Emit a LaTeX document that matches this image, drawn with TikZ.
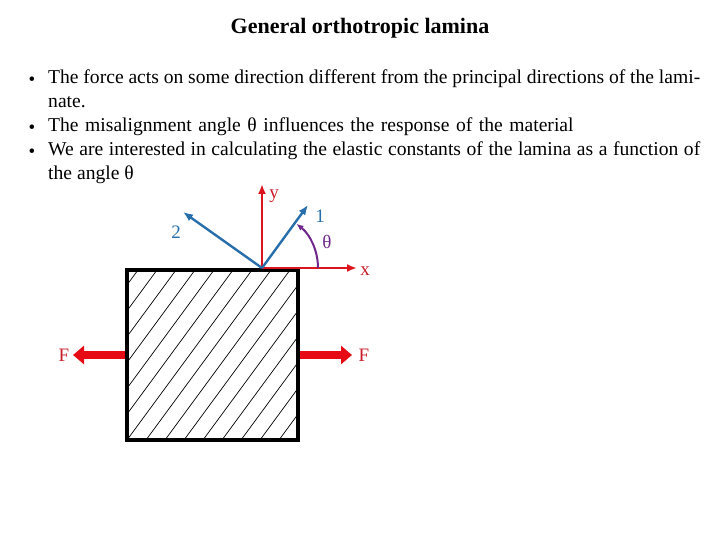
\documentclass[tikz,border=0pt]{standalone}
\usepackage{fontspec}
\setmainfont{Liberation Serif}
\usetikzlibrary{arrows.meta}
\begin{document}
\begin{tikzpicture}[x=1pt,y=-1pt,
  redax/.style={draw={rgb,255:red,220;green,20;blue,30},line width=2.4pt,-{Latex[length=10pt,width=8pt]}},
  blueax/.style={draw={rgb,255:red,40;green,110;blue,170},line width=2.4pt,-{Latex[length=10pt,width=8pt]}},
  force/.style={draw={rgb,255:red,230;green,10;blue,20},line width=8pt,-{Triangle[length=11pt,width=18pt]}},
  lbl/.style={font=\fontsize{19}{20}\selectfont},
  body/.style={font=\fontsize{19.6}{24}\selectfont,align=justify,text width=652pt,inner sep=0pt,anchor=north west}]
\useasboundingbox (0,0) rectangle (720,540);
\node[font=\bfseries\fontsize{22}{24}\selectfont] (title) at (360,28) {General orthotropic lamina};
\node[body] (b1) at (48,70) {The force acts on some direction different from the principal directions of the laminate.};
\node[body,align=left] (b2) at (48,118) {The misalignment angle θ influences the response of the material};
\node[body] (b3) at (48,142) {We are interested in calculating the elastic constants of the lamina as a function of the angle θ};
\foreach \yy/\n in {81/d1,129/d2,153/d3} \node[font=\fontsize{19}{19}\selectfont] (\n) at (32,\yy) {•};
\begin{scope}
\clip (127,270) rectangle (298,440);
\foreach \i in {-8,...,9} \draw[line width=0.7pt] (127+\i*19,440) -- (127+\i*19+125,270);
\end{scope}
\node[draw,line width=3.2pt,minimum width=171pt,minimum height=170pt,inner sep=0pt] (box) at (212.5,355) {};
\coordinate (o) at (262,268);
\coordinate (xe) at (357,268);
\coordinate (ye) at (262,184);
\coordinate (e1) at (308,205);
\coordinate (e2) at (183,212);
\draw[redax] (o) -- (xe);
\draw[redax] (o) -- (ye);
\draw[blueax] (o) -- (e1);
\draw[blueax] (o) -- (e2);
\draw[draw={rgb,255:red,110;green,40;blue,140},line width=2pt,-{Latex[length=7pt,width=6pt]}] (318,268) arc[start angle=0,end angle=-52,radius=56];
\node[lbl,text={rgb,255:red,200;green,30;blue,40}] (ly) at (274,196) {y};
\node[lbl,text={rgb,255:red,200;green,30;blue,40}] (lx) at (365,271) {x};
\node[lbl,text={rgb,255:red,40;green,110;blue,170}] (l1) at (320,216) {1};
\node[lbl,text={rgb,255:red,40;green,110;blue,170}] (l2) at (176,232) {2};
\node[lbl,text={rgb,255:red,110;green,40;blue,140}] (lt) at (327,242) {θ};
\coordinate (fr) at (352,355);
\coordinate (fl) at (73,355);
\draw[force] (box.east) -- (fr);
\draw[force] (box.west) -- (fl);
\node[lbl,text={rgb,255:red,200;green,30;blue,40}] (fR) at (364,355) {F};
\node[lbl,text={rgb,255:red,200;green,30;blue,40}] (fL) at (64,355) {F};
\end{tikzpicture}
\end{document}
